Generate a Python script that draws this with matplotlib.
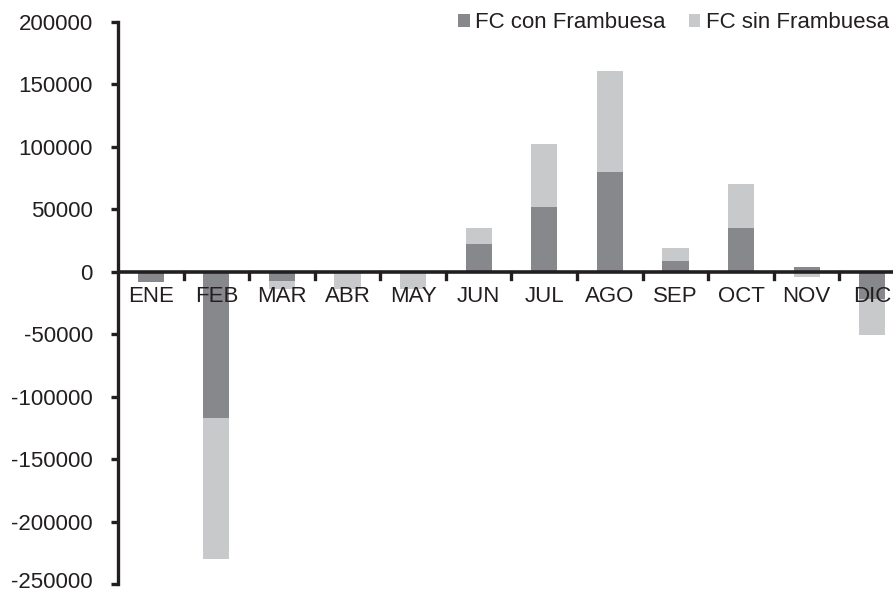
import numpy as np
import matplotlib
matplotlib.use("Agg")
import matplotlib.pyplot as plt
import matplotlib.transforms as mtransforms

plt.rcParams["font.family"] = ["Liberation Sans", "DejaVu Sans"]

meses = ["ENE", "FEB", "MAR", "ABR", "MAY", "JUN", "JUL", "AGO", "SEP", "OCT", "NOV", "DIC"]
fc_con = [-8000, -117000, -7000, -1000, -1000, 22000, 52000, 80000, 9000, 35000, 3500, -22000]
fc_sin = [0, -113000, -7000, -13000, -13000, 13000, 50000, 81000, 10000, 35000, -4500, -29000]
y_ticks = [-250000, -200000, -150000, -100000, -50000, 0, 50000, 100000, 150000, 200000]

c_con = "#87888b"
c_sin = "#c8c9cb"
txt = "#231f20"
fs = 16

fig = plt.figure(figsize=(8.93, 5.92), dpi=100)
ax = fig.add_axes([118 / 893, 1 - 584 / 592, 787 / 893, 562 / 592])

x = np.arange(len(meses))
con = np.array(fc_con)
sin = np.array(fc_sin)
# apilado: positivos sobre positivos, negativos bajo negativos
base_sin = np.where(np.sign(sin) == np.sign(con), con, 0)

ax.bar(x, con, width=0.4, color=c_con, label="FC con Frambuesa", zorder=2)
ax.bar(x, sin, width=0.4, bottom=base_sin, color=c_sin, label="FC sin Frambuesa", zorder=2)

ax.set_xlim(-0.5, len(meses) - 0.5)
ax.set_ylim(-250000, 200000)
ax.set_yticks(y_ticks)
ax.set_yticklabels([str(v) for v in y_ticks], fontsize=fs, color=txt)

for s in ["top", "right", "bottom"]:
    ax.spines[s].set_visible(False)
ax.spines["left"].set_linewidth(2.4)
ax.spines["left"].set_color(txt)
ax.tick_params(axis="y", length=5, width=2.4, color=txt, pad=13)

# la etiqueta inferior queda al borde: subirla un poco para que no se corte
lbl = ax.get_yticklabels()[0]
lbl.set_transform(lbl.get_transform() + mtransforms.ScaledTranslation(0, 3 / 72, fig.dpi_scale_trans))

# eje x en cero con marcas entre categorías
ax.axhline(0, color=txt, lw=2.6, zorder=3)
ax.set_xticks([])
for i in range(1, len(meses)):
    ax.plot([i - 0.5, i - 0.5], [0, -5500], color=txt, lw=2.4, zorder=3, clip_on=False)
for i, m in enumerate(meses):
    ax.text(i, -11000, m, ha="center", va="top", fontsize=fs, color=txt, zorder=4)

leg = fig.legend(loc="upper right", bbox_to_anchor=(1.0 + 8 / 893, 1.0), ncol=2, frameon=False,
                 fontsize=fs, handlelength=0.5, handleheight=0.5, handletextpad=0.25,
                 columnspacing=1.05, borderaxespad=0.15)
for t in leg.get_texts():
    t.set_color(txt)

fig.savefig("out.png", dpi=100)
